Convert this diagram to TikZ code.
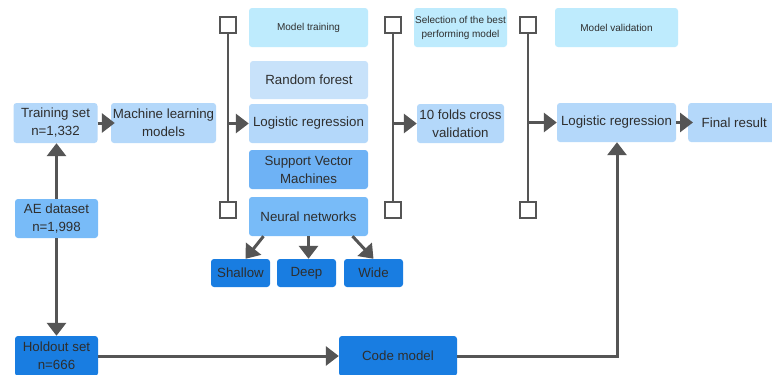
\documentclass[tikz,border=0pt]{standalone}
\usepackage{fontspec}
\setmainfont{Liberation Sans}
\usetikzlibrary{arrows.meta,calc}
\definecolor{cyanlt}{HTML}{BEEBFD}
\definecolor{blueA}{HTML}{B4D8FA}
\definecolor{blueRF}{HTML}{C8E2FA}
\definecolor{blueSVM}{HTML}{6EB2F5}
\definecolor{blueNN}{HTML}{78BBF8}
\definecolor{blueDark}{HTML}{197DE1}
\definecolor{arrowgray}{HTML}{555555}
\definecolor{txt}{HTML}{2E2E2E}
\tikzset{
  box/.style={rounded corners=3pt, align=center, inner sep=0pt, text=txt,
    font=\fontsize{13.3}{18}\selectfont},
  smallbox/.style={box, font=\fontsize{10}{14}\selectfont},
  arr/.style={draw=arrowgray, line width=3pt, -{Triangle[length=13pt,width=19pt]}},
  bline/.style={draw=arrowgray, line width=2.5pt},
  sq/.style={draw=arrowgray, line width=2.2pt, fill=white, minimum size=16pt, inner sep=0pt}
}
\begin{document}
\begin{tikzpicture}[x=1pt,y=-1pt]
\useasboundingbox[fill=white] (0,0) rectangle (772,375);
% left column
\node[box, fill=blueA, minimum width=84pt, minimum height=40pt] (train) at (55.5,123) {Training set\\n=1,332};
\node[box, fill=blueA, minimum width=105pt, minimum height=40pt] (ml) at (163.5,123) {Machine learning\\models};
\node[box, fill=blueNN, minimum width=83pt, minimum height=39pt] (ae) at (56.5,218.5) {AE dataset\\n=1,998};
\node[box, fill=blueDark, minimum width=83pt, minimum height=40pt] (hold) at (56.5,356) {Holdout set\\n=666};
\node[box, fill=blueDark, minimum width=118pt, minimum height=40pt] (code) at (398,356) {Code model};
% model training column
\node[smallbox, fill=cyanlt, minimum width=119pt, minimum height=39pt] (mtrain) at (308.5,27.5) {Model training};
\node[box, fill=blueRF, minimum width=118pt, minimum height=38pt] (rf) at (309,80) {Random forest};
\node[box, fill=blueA, minimum width=119pt, minimum height=39pt] (lr) at (308.5,123.5) {Logistic regression};
\node[box, fill=blueSVM, minimum width=119pt, minimum height=39pt] (svm) at (308.5,169.5) {Support Vector\\Machines};
\node[box, fill=blueNN, minimum width=119pt, minimum height=39pt] (nn) at (308.5,216.5) {Neural networks};
\node[box, fill=blueDark, minimum width=59pt, minimum height=28pt] (shallow) at (240.5,273) {Shallow};
\node[box, fill=blueDark, minimum width=59pt, minimum height=28pt] (deep) at (306.5,273) {Deep};
\node[box, fill=blueDark, minimum width=59pt, minimum height=28pt] (wide) at (373.5,273) {Wide};
% selection column
\node[smallbox, fill=cyanlt, minimum width=93pt, minimum height=39pt] (sel) at (460.5,27.5) {Selection of the best\\performing model};
\node[box, fill=blueA, minimum width=87pt, minimum height=39pt] (folds) at (460.5,123.5) {10 folds cross\\validation};
% validation column
\node[smallbox, fill=cyanlt, minimum width=123pt, minimum height=39pt] (mval) at (616.5,27.5) {Model validation};
\node[box, fill=blueA, minimum width=119pt, minimum height=39pt] (lr2) at (616.5,122.5) {Logistic regression};
\node[box, fill=blueA, minimum width=92pt, minimum height=39pt, anchor=west] (final) at (688,122.5) {Final result};
% brackets
\coordinate (b1t) at (228,25); \coordinate (b1b) at (228,210); \coordinate (b1m) at (228,123.5);
\coordinate (b2t) at (393,25); \coordinate (b2b) at (393,210); \coordinate (b2m) at (393,123.5);
\coordinate (b3t) at (528,25); \coordinate (b3b) at (528,210); \coordinate (b3m) at (528,122.5);
\draw[bline] (b1t) -- (b1b);
\draw[bline] (b2t) -- (b2b);
\draw[bline] (b3t) -- (b3b);
\node[sq] (s1t) at (b1t) {}; \node[sq] (s1b) at (b1b) {};
\node[sq] (s2t) at (b2t) {}; \node[sq] (s2b) at (b2b) {};
\node[sq] (s3t) at (b3t) {}; \node[sq] (s3b) at (b3b) {};
% arrows
\draw[arr, shorten >=-4pt] (train) -- (ml);
\draw[arr] (ae.north) -- (ae.north |- train.south);
\draw[arr] (ae) -- (hold);
\draw[arr] (hold) -- (code);
\draw[arr] (b1m) -- (lr);
\draw[arr] (b2m) -- (folds);
\draw[arr] (b3m) -- (lr2);
\draw[arr, shorten >=-5pt] (lr2) -- (final);
\coordinate (corner) at (617,356);
\draw[arr] (code.east) -- (corner) -- (lr2.south -| corner);
\draw[arr] ([xshift=-45pt]nn.south) -- ([xshift=5pt]shallow.north);
\draw[arr] (nn.south) -- (nn.south |- deep.north);
\draw[arr] ([xshift=44pt]nn.south) -- ([xshift=0pt]wide.north);
\end{tikzpicture}
\end{document}
